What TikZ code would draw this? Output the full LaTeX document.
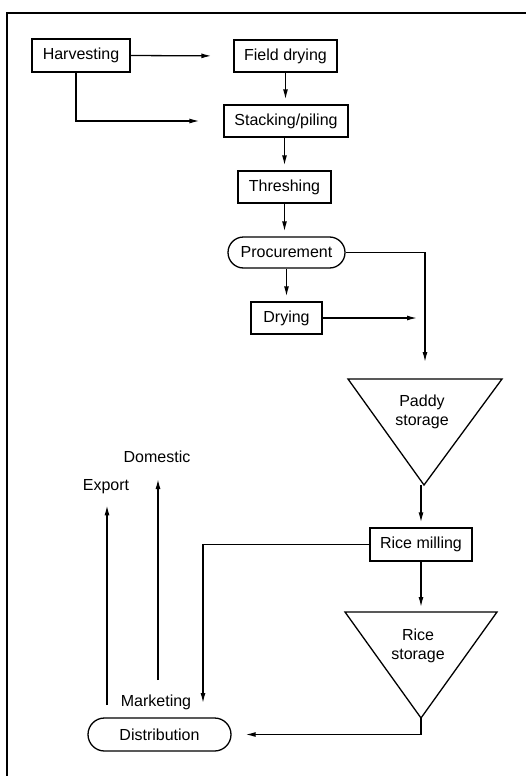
\documentclass[tikz,border=0pt]{standalone}
\usepackage{fontspec}
\setmainfont{Liberation Sans}
\usetikzlibrary{arrows.meta,shapes.misc}
\begin{document}
\begin{tikzpicture}[x=1pt,y=-1pt,
  txt/.style={font=\fontsize{16}{19}\selectfont, inner sep=0pt, align=center},
  box/.style={txt, draw, line width=1.3pt, rectangle},
  pill/.style={txt, draw, line width=1.3pt, rounded rectangle},
  tri/.style={draw, line width=1.3pt, line join=miter},
  arr/.style={line width=1.3pt, -{Latex[length=10pt,width=5pt]}},
  frame/.style={line width=2pt}]
\useasboundingbox (0,0) rectangle (526,776);
\draw[frame] (7,776) -- (7,13) -- (526,13);

\node[box, minimum width=98pt, minimum height=33pt] (harv) at (81,55.5) {Harvesting};
\node[box, minimum width=103pt, minimum height=32pt] (field) at (285.5,56) {Field drying};
\node[box, minimum width=124pt, minimum height=32pt] (stack) at (286,121) {Stacking/piling};
\node[box, minimum width=93pt, minimum height=32pt] (thresh) at (284.5,187) {Threshing};
\node[pill, minimum width=117pt, minimum height=31pt] (proc) at (286.5,252.5) {Procurement};
\node[box, minimum width=71pt, minimum height=32pt] (dry) at (286.5,318) {Drying};
\node[box, minimum width=102pt, minimum height=33pt] (mill) at (421,544.5) {Rice milling};
\node[pill, minimum width=143pt, minimum height=33pt] (dist) at (159.5,734.5) {Distribution};

% triangles
\coordinate (pl) at (348,379); \coordinate (pr) at (502,379); \coordinate (pa) at (424,485);
\coordinate (ptop) at (425,379);
\draw[tri] (pl) -- (pr) -- (pa) -- cycle;
\node[txt] (paddy) at (422,412) {Paddy\\storage};
\coordinate (rl) at (345,612); \coordinate (rr) at (497,612); \coordinate (ra) at (421,718);
\draw[tri] (rl) -- (rr) -- (ra) -- cycle;
\node[txt] (rice) at (418,646) {Rice\\storage};

% labels
\node[txt] (mkt) at (156,702) {Marketing};
\node[txt] (exp) at (106,487) {Export};
\node[txt] (dom) at (157,457) {Domestic};
\coordinate (expstart) at (107,705);
\coordinate (domstart) at (158,680);
\coordinate (mktend) at (203,718);

% connectors
\draw[arr, shorten >=22pt] (harv.east) -- (field.west);
\draw[arr, shorten >=24pt] ([xshift=-5pt]harv.south) |- (stack.west);
\draw[arr, shorten >=5pt] (field.south) -- (field.south |- stack.north);
\draw[arr, shorten >=5pt] (stack.south -| thresh.north) -- (thresh.north);
\draw[arr, shorten >=5pt] (thresh.south) -- (thresh.south |- proc.north);
\draw[arr, shorten >=5pt] (proc.south -| dry.north) -- (dry.north);
\draw[arr, shorten >=17pt] (proc.east) -| (ptop);
\draw[arr, shorten >=8pt] (dry.east) -- (dry.east -| ptop);
\draw[arr, shorten >=5pt] (pa -| mill.north) -- (mill.north);
\draw[arr, shorten >=15pt] (mill.west) -| (mktend);
\draw[arr, shorten >=5pt] (mill.south) -- (mill.south |- rl);
\draw[arr, shorten >=14pt] (ra) |- (dist.east);
\draw[arr, shorten >=11pt] (expstart) -- (expstart |- exp.south);
\draw[arr, shorten >=16pt] (domstart) -- (domstart |- dom.south);
\end{tikzpicture}
\end{document}
